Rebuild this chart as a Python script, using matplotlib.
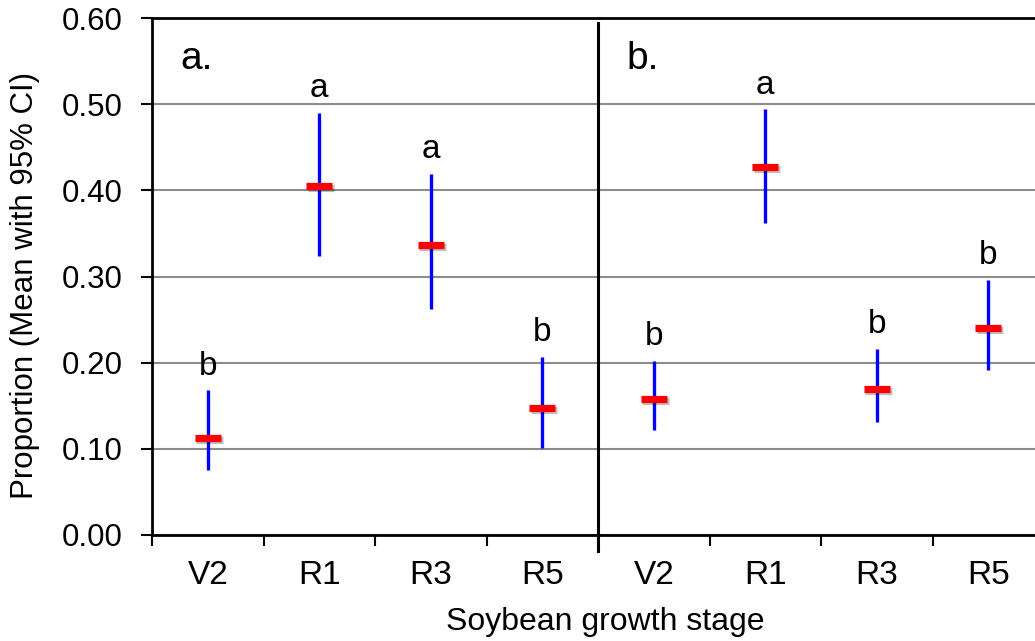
import matplotlib.pyplot as plt
import matplotlib.patheffects as pe
import numpy as np

plt.rcParams["font.family"] = ["Liberation Sans", "DejaVu Sans"]

stages = ["V2", "R1", "R3", "R5"]

# panel a
a_mean = [0.112, 0.405, 0.336, 0.147]
a_lower = [0.075, 0.324, 0.262, 0.101]
a_upper = [0.168, 0.490, 0.419, 0.207]
a_letters = ["b", "a", "a", "b"]

# panel b
b_mean = [0.158, 0.427, 0.169, 0.240]
b_lower = [0.122, 0.362, 0.131, 0.192]
b_upper = [0.202, 0.494, 0.216, 0.296]
b_letters = ["b", "a", "b", "b"]

panel_labels = ["a.", "b."]

mean = np.array(a_mean + b_mean)
lower = np.array(a_lower + b_lower)
upper = np.array(a_upper + b_upper)
letters = a_letters + b_letters
labels = stages + stages
x = np.arange(len(mean))

fig = plt.figure(figsize=(10.35, 6.41), dpi=100)
ax = fig.add_axes([152 / 1035, 1 - 535 / 641, 892 / 1035, 517 / 641])

ax.set_ylim(0, 0.6)
ax.set_xlim(-0.5, len(mean) - 0.5)
ax.set_yticks(np.arange(0, 0.61, 0.1))
ax.set_yticklabels([f"{v:.2f}" for v in np.arange(0, 0.61, 0.1)], fontsize=22.5)
ax.yaxis.grid(True, color="#8c8c8c", linewidth=1.5)
ax.set_axisbelow(True)

ax.set_xticks(x)
ax.set_xticklabels(labels, fontsize=24)
ax.set_xticks(np.arange(-0.5, len(mean), 1.0), minor=True)
ax.tick_params(axis="x", which="major", length=0, pad=18)
ax.tick_params(axis="x", which="minor", length=8, width=1.5, direction="out")
ax.tick_params(axis="y", length=8, width=1.5, direction="out", pad=13)

for side in ["left", "bottom", "top"]:
    ax.spines[side].set_linewidth(2)
ax.spines["right"].set_visible(False)

# divider between panels
ax.axvline(3.5, ymin=-0.03, ymax=0.99, color="black", linewidth=2.2, clip_on=False)

ax.vlines(x, lower, upper, color="#0000ff", linewidth=2.4, zorder=3)
ax.plot(x, mean, linestyle="none", marker="_", markersize=19, markeredgewidth=5.2,
        color="#ff0000", zorder=4,
        path_effects=[pe.SimpleLineShadow(offset=(1.2, -1.2), alpha=0.25), pe.Normal()])

for xi, top, lab in zip(x, upper, letters):
    ax.text(xi, top + 0.018, lab, ha="center", va="baseline", fontsize=24)

ax.text(-0.1, 0.552, panel_labels[0], ha="center", va="center", fontsize=28)
ax.text(3.9, 0.552, panel_labels[1], ha="center", va="center", fontsize=28)

fig.text(25 / 1035, 1 - 285 / 641, "Proportion (Mean with 95% CI)", rotation=90,
         ha="center", va="center", fontsize=22.5)
fig.text(605 / 1035, 1 - 622 / 641, "Soybean growth stage", ha="center", va="center",
         fontsize=23)

fig.savefig("out.png", dpi=100)
